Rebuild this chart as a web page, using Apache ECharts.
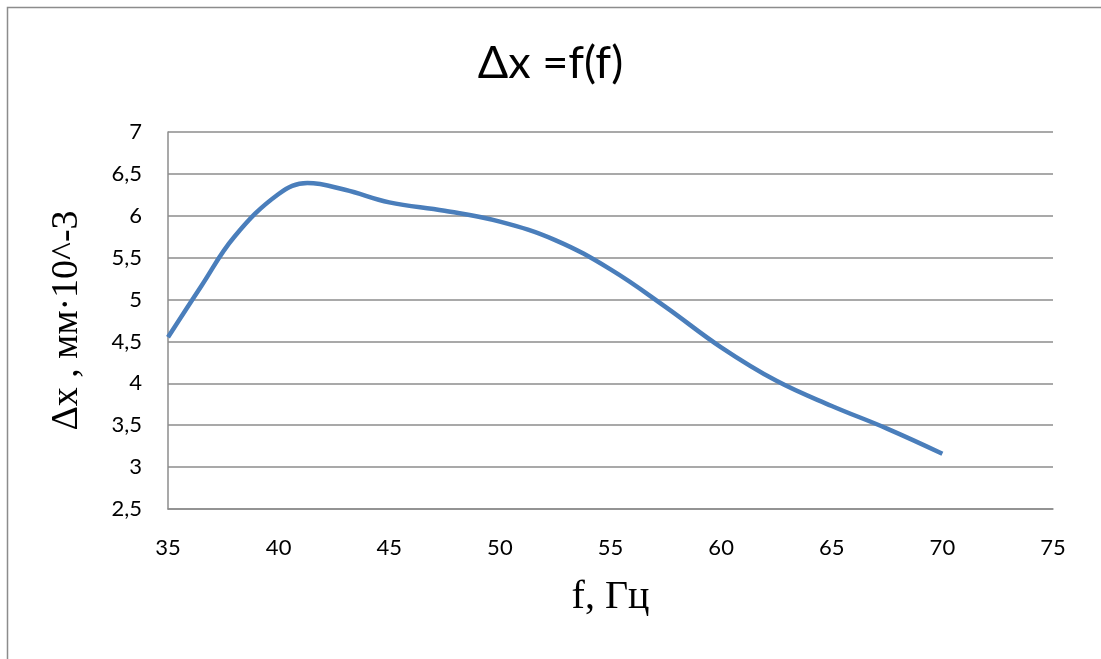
<!DOCTYPE html>
<html><head><meta charset="utf-8">
<script src="https://cdn.jsdelivr.net/npm/echarts@6/dist/echarts.min.js"></script>
<style>html,body{margin:0;padding:0;background:#fff}#c{width:1101px;height:659px}</style>
</head><body><div id="c"></div>
<script>
const freq = [35, 36.5, 38, 40, 41.3, 43, 45, 47.5, 50, 52.5, 55, 57.5, 60, 62.5, 65, 67.5, 70];
const dx   = [4.55, 5.16, 5.75, 6.26, 6.39, 6.31, 6.16, 6.06, 5.93, 5.71, 5.36, 4.91, 4.43, 4.03, 3.73, 3.46, 3.16];
const titleText = 'Δx =f(f)';
const xName = 'f, Гц';
const yName = 'Δx , мм·10^-3';

const chart = echarts.init(document.getElementById('c'));
chart.setOption({
  animation: false,
  backgroundColor: '#fff',
  graphic: [{type:'rect', shape:{x:7.5,y:7.5,width:1200,height:800}, style:{fill:'none', stroke:'#8c8c8c', lineWidth:1.5}, silent:true}],
  title: {text: titleText, left: 'center', top: 36, itemGap: 0,
    textStyle: {fontFamily: 'Lato, "Open Sans", sans-serif', fontSize: 45, fontWeight: 'normal', color: '#000'}},
  grid: {left: 168, right: 48, top: 132, bottom: 150},
  xAxis: {type: 'value', min: 35, max: 75, interval: 5,
    name: xName, nameLocation: 'middle', nameGap: 68,
    nameTextStyle: {fontFamily: '"Liberation Serif", serif', fontSize: 40, color: '#000'},
    axisLine: {show: true, lineStyle: {color: '#8c8c8c', width: 1.5}},
    axisTick: {show: false},
    axisLabel: {margin: 28, fontFamily: 'Lato, "Open Sans", sans-serif', fontSize: 22, color: '#000'},
    splitLine: {show: false}},
  yAxis: {type: 'value', min: 2.5, max: 7, interval: 0.5,
    name: yName, nameLocation: 'middle', nameGap: 82,
    nameTextStyle: {fontFamily: '"Liberation Serif", serif', fontSize: 38, color: '#000'},
    axisLine: {show: true, lineStyle: {color: '#8c8c8c', width: 1.5}},
    axisTick: {show: false},
    axisLabel: {margin: 26, fontFamily: 'Lato, "Open Sans", sans-serif', fontSize: 22, color: '#000',
      formatter: v => String(v).replace('.', ',')},
    splitLine: {show: true, lineStyle: {color: '#8c8c8c', width: 1.5}}},
  series: [{type: 'line', data: freq.map((f, i) => [f, dx[i]]), smooth: 0.4, showSymbol: false,
    lineStyle: {color: '#4a7ebb', width: 4.5}}]
});
</script></body></html>
